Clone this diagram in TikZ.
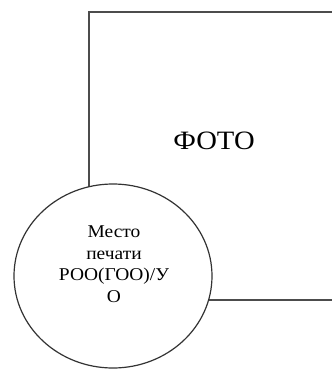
\documentclass[tikz,border=0pt]{standalone}
\usepackage{fontspec}
\setmainfont{Liberation Serif}[FakeStretch=1.08]
\usetikzlibrary{positioning,shapes.geometric}

\begin{document}
\begin{tikzpicture}[x=1pt, y=-1pt,
  every node/.style={inner sep=0pt, outer sep=0pt},
  frame/.style={draw=black!70, line width=1.6pt, minimum width=250pt, minimum height=288pt},
  stamp/.style={draw=black!80, line width=1.2pt, fill=white, ellipse, minimum width=198pt, minimum height=184pt}]
\useasboundingbox (0,0) rectangle (332,370);
\clip (0,0) rectangle (332,370);
\node[frame] (photo) at (214,156) {};
\node[font=\fontsize{26.5}{30}\selectfont] (phototext) at (214,141) {ФОТО};
\node[stamp] (seal) at (113,276) {};
\node[align=center, font=\fontsize{18}{21.5}\selectfont] (sealtext) at (114,264) {Место\\печати\\РОО(ГОО)/У\\О};
\end{tikzpicture}
\end{document}
